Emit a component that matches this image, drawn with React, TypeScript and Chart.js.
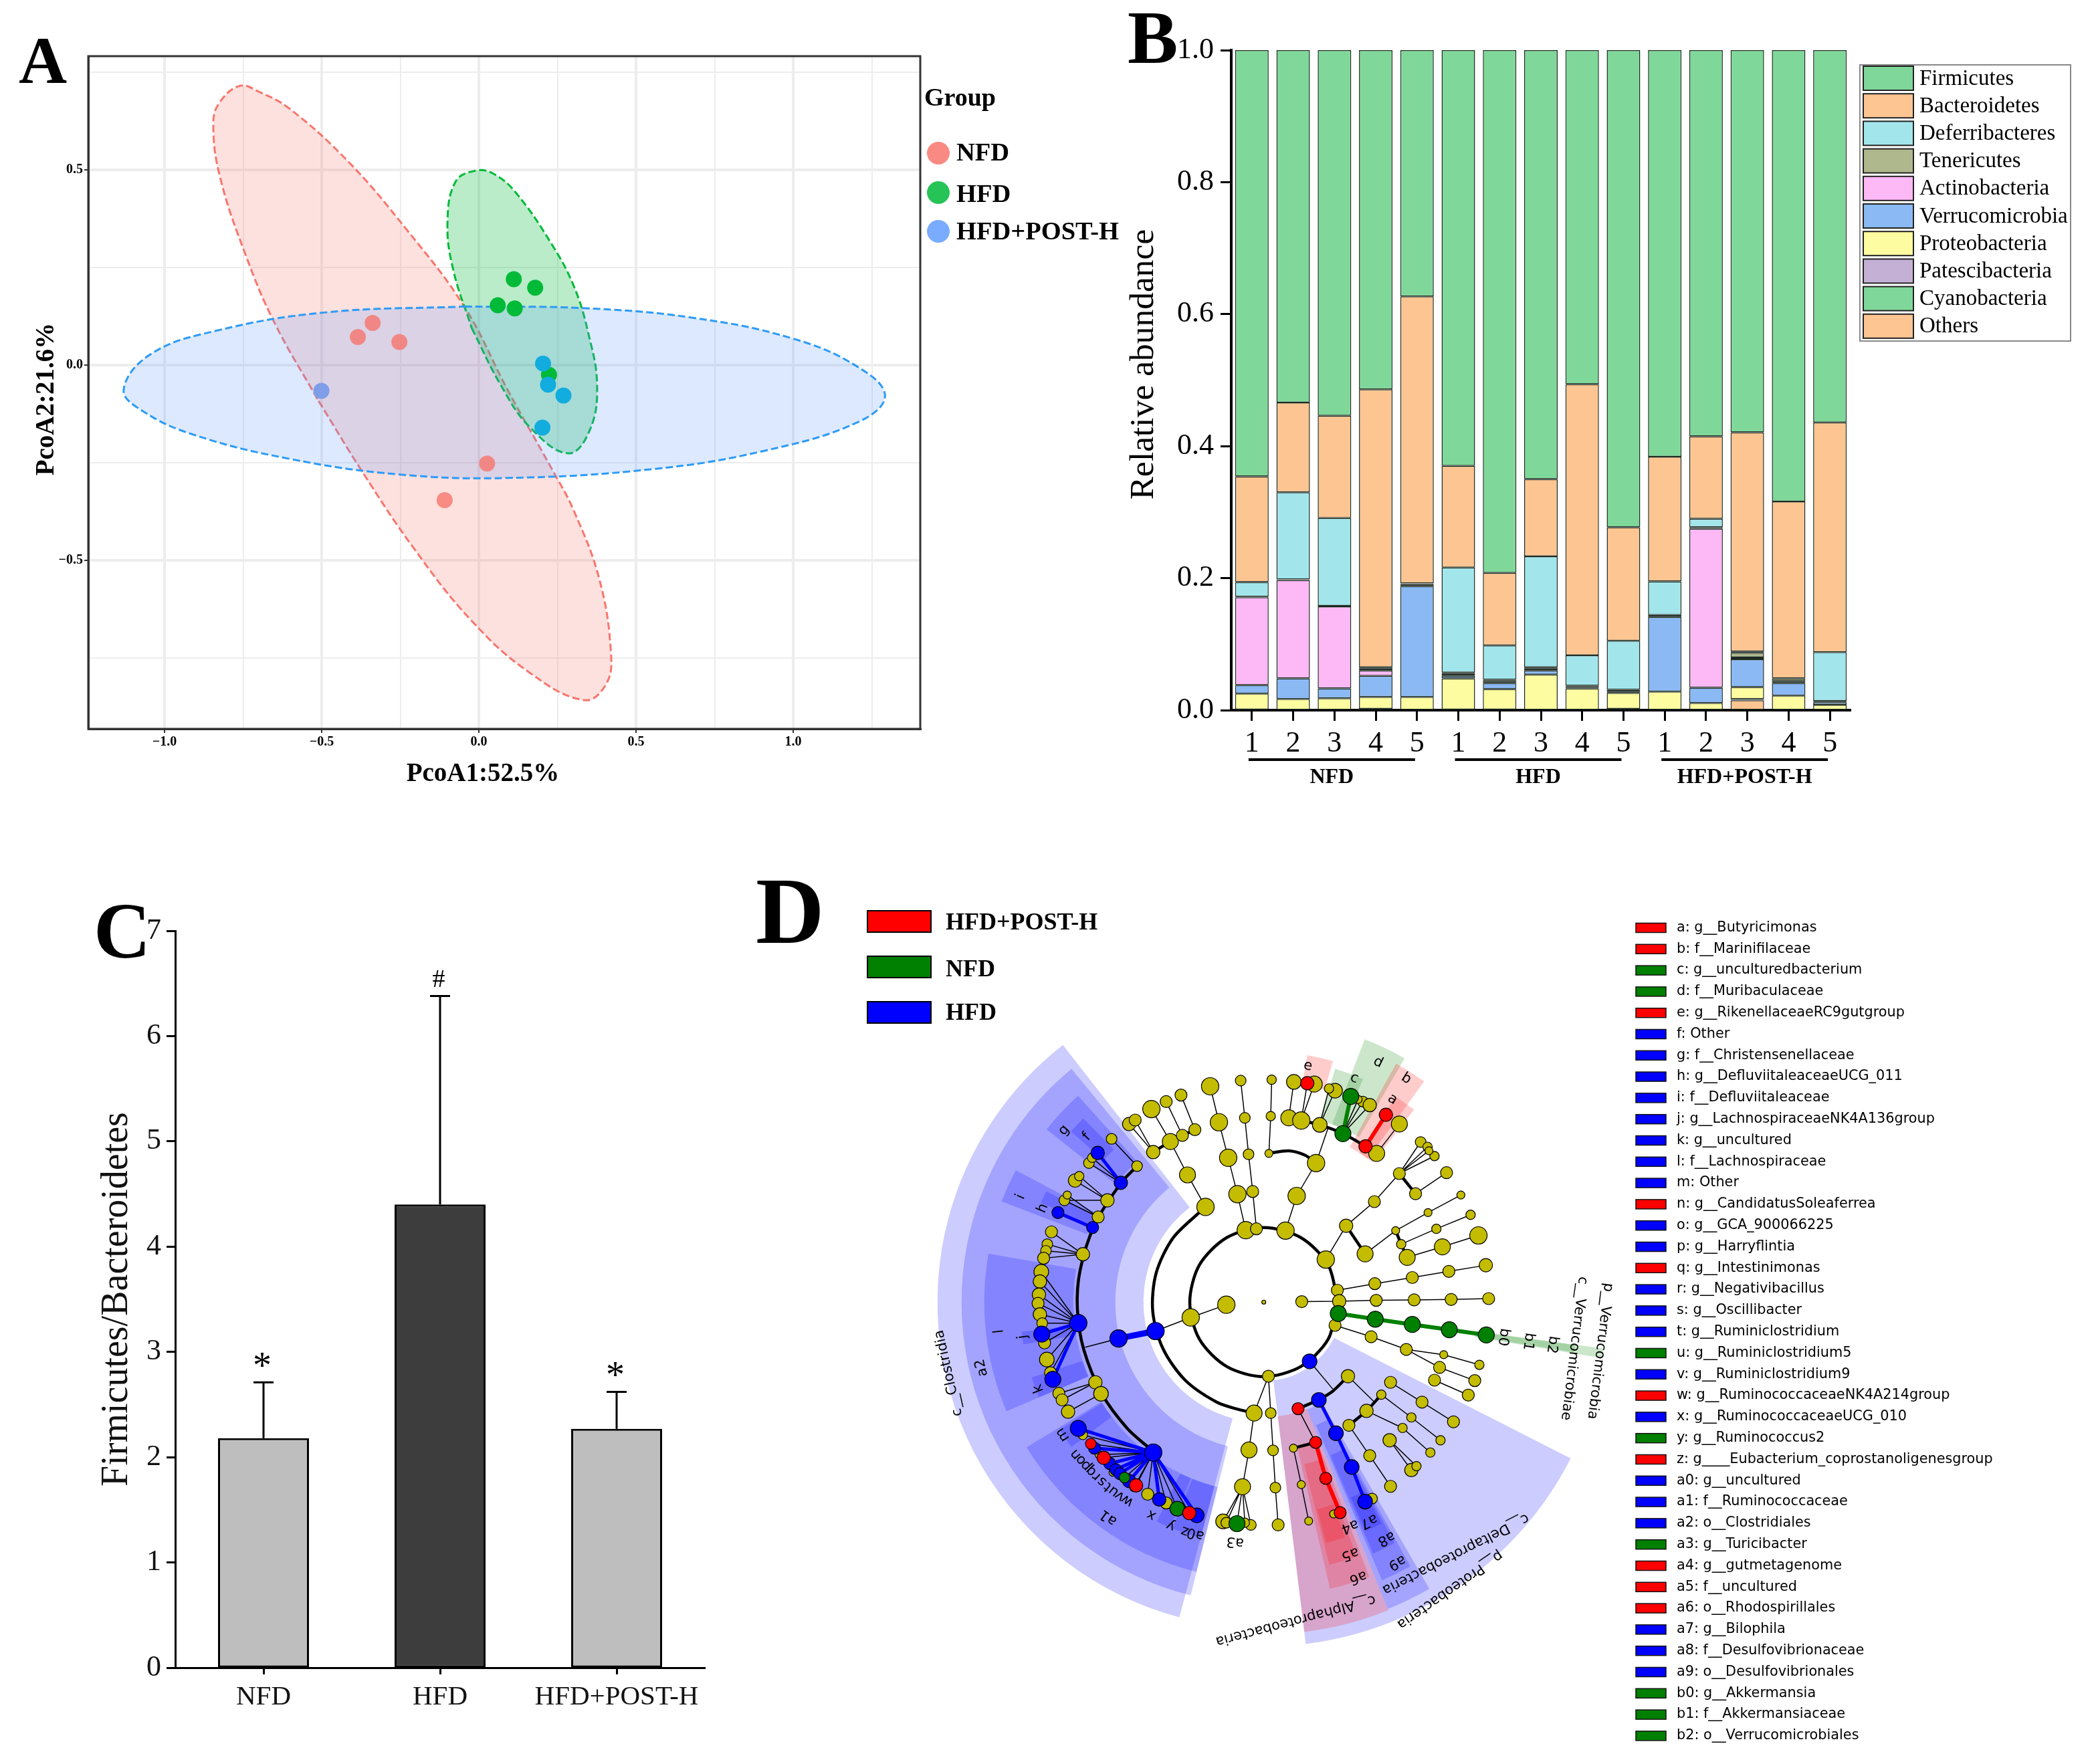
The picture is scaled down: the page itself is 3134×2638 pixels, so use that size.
import React, { useEffect, useRef } from "react";
import { Chart, registerables } from "chart.js";

Chart.register(...registerables);

const SERIF = '"Liberation Serif"';
const SANS = '"DejaVu Sans"';

// ---------- Panel A: PCoA ----------
const pcoaGroups = ["NFD", "HFD", "HFD+POST-H"];
const pcoaNFD = [[-0.338, 0.108], [-0.385, 0.072], [-0.253, 0.059], [0.026, -0.252], [-0.109, -0.346]];
const pcoaHFD = [[0.111, 0.22], [0.179, 0.198], [0.06, 0.153], [0.114, 0.145], [0.223, -0.025]];
const pcoaPOST = [[-0.501, -0.066], [0.204, 0.004], [0.22, -0.05], [0.269, -0.078], [0.202, -0.16]];
const outlineNFD = [[-0.51, -0.092], [-0.371, -0.273], [-0.209, -0.467], [-0.023, -0.655], [0.162, -0.788], [0.336, -0.858], [0.406, -0.815], [0.42, -0.735], [0.383, -0.548], [0.302, -0.373], [0.232, -0.266], [0.093, -0.066], [-0.046, 0.149], [-0.232, 0.349], [-0.418, 0.523], [-0.603, 0.657], [-0.7, 0.7], [-0.761, 0.715], [-0.826, 0.671], [-0.845, 0.617], [-0.824, 0.483], [-0.742, 0.282], [-0.65, 0.108], [-0.51, -0.092]];
const outlineHFD = [[-0.023, 0.095], [0.07, -0.052], [0.162, -0.159], [0.285, -0.226], [0.353, -0.166], [0.376, -0.052], [0.348, 0.082], [0.302, 0.202], [0.232, 0.309], [0.116, 0.443], [0.046, 0.49], [-0.009, 0.498], [-0.074, 0.47], [-0.1, 0.363], [-0.081, 0.242], [-0.023, 0.095]];
const outlinePOST = [[-0.046, 0.15], [0.325, 0.146], [0.673, 0.122], [0.998, 0.068], [1.206, -0.005], [1.292, -0.079], [1.206, -0.146], [0.905, -0.22], [0.557, -0.266], [0.093, -0.289], [-0.255, -0.28], [-0.603, -0.24], [-0.905, -0.179], [-1.067, -0.119], [-1.13, -0.063], [-1.044, 0.028], [-0.835, 0.088], [-0.487, 0.135], [-0.046, 0.15]];
const pcoaColors = ["#F8766D", "#00BA38", "#619CFF"];
const pcoaPOSTColors = ["#7E9EE8", "#12ACDF", "#12ACDF", "#12ACDF", "#12ACDF"];

// ---------- Panel B: stacked composition ----------
const sampleLabels = ["1", "2", "3", "4", "5", "1", "2", "3", "4", "5", "1", "2", "3", "4", "5"];
const sampleGroups = ["NFD", "HFD", "HFD+POST-H"];
const others = [0.001, 0, 0, 0.002, 0, 0, 0, 0, 0, 0.001, 0, 0, 0.015, 0, 0];
const cyanobacteria = [0, 0, 0, 0, 0, 0, 0, 0, 0, 0, 0, 0, 0.001, 0, 0];
const patescibacteria = [0, 0, 0, 0, 0, 0.001, 0.001, 0, 0, 0.001, 0, 0, 0.001, 0, 0];
const proteobacteria = [0.024, 0.017, 0.018, 0.018, 0.02, 0.047, 0.031, 0.054, 0.033, 0.024, 0.028, 0.011, 0.018, 0.022, 0.008];
const verrucomicrobia = [0.013, 0.031, 0.015, 0.032, 0.168, 0.004, 0.009, 0.006, 0.002, 0.002, 0.113, 0.023, 0.042, 0.019, 0.004];
const actinobacteria = [0.133, 0.149, 0.124, 0.008, 0, 0.003, 0.003, 0.003, 0, 0, 0, 0.241, 0.003, 0.003, 0];
const tenericutes = [0.001, 0.001, 0.001, 0.003, 0.003, 0.002, 0.002, 0.002, 0.002, 0.003, 0.003, 0.002, 0.007, 0.004, 0.002];
const deferribacteres = [0.022, 0.132, 0.133, 0.002, 0.001, 0.159, 0.052, 0.168, 0.046, 0.074, 0.051, 0.013, 0.002, 0, 0.074];
const bacteroidetes = [0.16, 0.136, 0.155, 0.421, 0.435, 0.154, 0.11, 0.117, 0.411, 0.172, 0.189, 0.125, 0.332, 0.268, 0.348];
const firmicutes = [0.646, 0.534, 0.554, 0.514, 0.373, 0.63, 0.792, 0.65, 0.506, 0.723, 0.616, 0.585, 0.579, 0.684, 0.564];
const phylumStack: [string, number[], string][] = [
  ["Others", others, "#FDC591"],
  ["Cyanobacteria", cyanobacteria, "#7FD899"],
  ["Patescibacteria", patescibacteria, "#C5B0D5"],
  ["Proteobacteria", proteobacteria, "#FDFCA0"],
  ["Verrucomicrobia", verrucomicrobia, "#8AB9F4"],
  ["Actinobacteria", actinobacteria, "#FDB8F6"],
  ["Tenericutes", tenericutes, "#AFB78D"],
  ["Deferribacteres", deferribacteres, "#A2E6EC"],
  ["Bacteroidetes", bacteroidetes, "#FDC591"],
  ["Firmicutes", firmicutes, "#7FD899"],
];

// ---------- Panel C: ratio bars ----------
const ratioGroups = ["NFD", "HFD", "HFD+POST-H"];
const ratioMeans = [2.18, 4.4, 2.27];
const ratioUpper = [2.71, 6.38, 2.62];
const ratioColors = ["#BEBEBE", "#3D3D3D", "#BEBEBE"];
const ratioMarks = ["*", "#", "*"];

// ---------- Panel D: cladogram ----------
const cladeKeys = ["a", "b", "c", "d", "e", "f", "g", "h", "i", "j", "k", "l", "m", "n", "o", "p", "q", "r", "s", "t", "u", "v", "w", "x", "y", "z", "a0", "a1", "a2", "a3", "a4", "a5", "a6", "a7", "a8", "a9", "b0", "b1", "b2"];
const cladeNames = ["g__Butyricimonas", "f__Marinifilaceae", "g__unculturedbacterium", "f__Muribaculaceae", "g__RikenellaceaeRC9gutgroup", "Other", "f__Christensenellaceae", "g__DefluviitaleaceaeUCG_011", "f__Defluviitaleaceae", "g__LachnospiraceaeNK4A136group", "g__uncultured", "f__Lachnospiraceae", "Other", "g__CandidatusSoleaferrea", "g__GCA_900066225", "g__Harryflintia", "g__Intestinimonas", "g__Negativibacillus", "g__Oscillibacter", "g__Ruminiclostridium", "g__Ruminiclostridium5", "g__Ruminiclostridium9", "g__RuminococcaceaeNK4A214group", "g__RuminococcaceaeUCG_010", "g__Ruminococcus2", "g____Eubacterium_coprostanoligenesgroup", "g__uncultured", "f__Ruminococcaceae", "o__Clostridiales", "g__Turicibacter", "g__gutmetagenome", "f__uncultured", "o__Rhodospirillales", "g__Bilophila", "f__Desulfovibrionaceae", "o__Desulfovibrionales", "g__Akkermansia", "f__Akkermansiaceae", "o__Verrucomicrobiales"];
const cladeGroups = "rrggrbbbbbbbbrbbrbbbgbrbgrbbbgrrrbbbggg".split("");
const lefseGroups: [string, string][] = [["HFD+POST-H", "r"], ["NFD", "g"], ["HFD", "b"]];
const groupColor: Record<string, string> = { r: "#FF0000", g: "#008000", b: "#0000FF", y: "#C4BC00" };
const wedgeColor: Record<string, string> = { r: "rgba(255,0,0,0.2)", g: "rgba(0,128,0,0.2)", b: "rgba(0,0,255,0.2)" };

const cladoCentre = [836, 697];
const yellowNodes = [
  [797, 533, 13], [779, 451, 13], [759, 368, 13], [739, 287, 13], [720, 205, 13], [820, 530, 9], [812, 445, 9], [803, 360, 8], [795, 277, 8], [786, 192, 8],
  [883, 534, 13], [907, 455, 13], [949, 380, 13], [847, 358, 6], [851, 273, 7], [853, 190, 7], [890, 277, 12], [917, 283, 13], [957, 293, 11], [901, 195, 11], [945, 200, 12], [990, 215, 11], [977, 210, 7], [1050, 240, 8], [1065, 248, 10], [1040, 235, 6], [1080, 358, 12], [1129, 291, 12],
  [970, 600, 13], [1014, 523, 10], [1075, 468, 9], [1129, 404, 9], [1175, 332, 8], [1190, 343, 7], [1205, 364, 7], [1193, 352, 6], [1164, 450, 9], [1231, 402, 9],
  [1055, 587, 12], [1121, 534, 6], [1191, 493, 6], [1262, 453, 6], [1133, 565, 7], [1209, 530, 7], [1283, 498, 7], [1146, 595, 12], [1222, 571, 12], [1300, 545, 13],
  [995, 670, 9], [1076, 655, 9], [1157, 641, 9], [1236, 627, 9], [1316, 613, 10], [999, 695, 10], [1079, 693, 9], [1161, 692, 9], [1241, 691, 9], [1322, 689, 9], [918, 696, 9],
  [990, 750, 9], [1068, 776, 9], [1144, 805, 9], [1225, 817, 6], [1302, 840, 7], [1216, 846, 9], [1205, 875, 9], [1292, 876, 9], [1278, 909, 9],
  [1018, 866, 10], [1110, 880, 9], [1178, 925, 9], [1246, 970, 9], [1090, 908, 7], [1155, 960, 7], [1218, 1012, 7], [1058, 945, 10], [1136, 984, 7], [1196, 1040, 7], [1020, 978, 9], [1065, 1047, 9], [1110, 1117, 9], [1108, 1012, 10], [1155, 1080, 10], [1166, 1071, 7],
  [900, 1030, 6], [917, 1113, 6], [933, 1196, 6], [987, 1180, 6], [1070, 1145, 8],
  [846, 866, 9], [851, 950, 8], [856, 1035, 8], [861, 1120, 8], [867, 1205, 9], [815, 950, 12], [804, 1034, 12], [790, 1118, 12], [748, 1197, 11], [808, 1205, 8], [755, 1200, 8], [795, 1200, 7],
  [755, 703, 13], [678, 732, 13], [836, 697, 3],
  [710, 480, 13], [671, 407, 12], [634, 331, 12], [593, 257, 13], [625, 240, 9], [657, 225, 9], [545, 291, 10], [558, 282, 9], [597, 355, 10], [660, 317, 9], [687, 304, 9],
  [562, 387, 8], [507, 325, 8], [458, 380, 8], [465, 368, 7], [498, 465, 10], [428, 420, 10], [437, 410, 7], [405, 465, 8], [478, 503, 9], [411, 453, 6],
  [445, 588, 10], [377, 537, 9], [368, 565, 8], [365, 580, 8], [360, 597, 9], [355, 628, 11], [352, 650, 10], [350, 680, 10], [348, 700, 9], [352, 725, 10], [357, 745, 8], [362, 790, 9], [367, 828, 11], [375, 858, 9],
  [472, 880, 10], [393, 905, 9], [400, 920, 9], [484, 906, 11], [413, 947, 10], [445, 1000, 7], [585, 1135, 9], [625, 1155, 9], [480, 1045, 6], [510, 1085, 6], [555, 1120, 6],
];
const blueNodes = [
  [602, 763, 13], [522, 780, 13], [435, 745, 13], [356, 770, 12], [380, 873, 12], [597, 1040, 13], [527, 425, 10], [477, 357, 10], [466, 527, 9], [391, 493, 9],
  [435, 985, 12], [470, 1030, 9], [503, 1065, 9], [516, 1079, 9], [525, 1088, 9], [545, 1105, 10], [610, 1147, 10], [691, 1183, 11],
  [935, 832, 11], [955, 920, 11], [992, 996, 11], [1026, 1073, 11], [1055, 1152, 11],
];
const redNodes = [[910, 940, 9], [948, 1017, 9], [970, 1099, 9], [1001, 1177, 9], [1056, 342, 10], [1100, 270, 10], [930, 198, 10], [462, 1020, 8], [490, 1052, 10], [560, 1115, 10], [675, 1178, 10]];
const greenNodes = [[997, 723, 12], [1077, 736, 12], [1157, 748, 12], [1237, 760, 12], [1317, 772, 12], [1007, 313, 12], [1024, 228, 12], [778, 1202, 12], [535, 1097, 8], [649, 1168, 11]];

const thinBranches = [
  [797, 533, 779, 451, 759, 368, 739, 287, 720, 205], [820, 530, 812, 445, 803, 360, 795, 277, 786, 192], [883, 534, 907, 455, 949, 380, 975, 300],
  [847, 358, 851, 273, 853, 190], [890, 277, 901, 195], [917, 283, 945, 200, 917, 283, 930, 198], [957, 293, 990, 215, 957, 293, 977, 210],
  [1007, 313, 1040, 235, 1007, 313, 1050, 240, 1007, 313, 1065, 248], [1080, 358, 1129, 291], [970, 600, 1014, 523, 1075, 468, 1129, 404],
  [1129, 404, 1175, 332, 1129, 404, 1190, 343, 1129, 404, 1205, 364, 1129, 404, 1193, 352], [1164, 450, 1231, 402], [1055, 587, 1121, 534, 1191, 493, 1262, 453],
  [1133, 565, 1209, 530, 1283, 498], [1146, 595, 1222, 571, 1300, 545], [995, 670, 1076, 655, 1157, 641, 1236, 627, 1316, 613], [999, 695, 1079, 693, 1161, 692, 1241, 691, 1322, 689], [918, 696, 999, 695],
  [990, 750, 1068, 776, 1144, 805, 1225, 817, 1302, 840], [1144, 805, 1216, 846, 1292, 876], [1205, 875, 1278, 909], [935, 832, 985, 895],
  [1110, 880, 1178, 925, 1246, 970], [1018, 866, 1075, 925], [1090, 908, 1155, 960, 1218, 1012], [1058, 945, 1136, 984, 1196, 1040], [1020, 978, 1065, 1047, 1110, 1117], [1108, 1012, 1155, 1080, 1108, 1012, 1166, 1071],
  [900, 1030, 917, 1113, 933, 1196], [910, 940, 948, 1017], [846, 866, 851, 950, 856, 1035, 861, 1120, 867, 1205], [846, 866, 815, 950], [815, 950, 804, 1034, 790, 1118],
  [790, 1118, 748, 1197, 790, 1118, 778, 1202, 790, 1118, 808, 1205, 790, 1118, 755, 1200, 790, 1118, 795, 1200],
  [755, 703, 678, 732, 602, 763], [522, 780, 450, 800], [710, 480, 671, 407, 634, 331, 593, 257], [597, 355, 545, 291, 597, 355, 558, 282], [660, 317, 625, 240], [687, 304, 657, 225],
  [562, 387, 507, 325], [527, 425, 458, 380, 527, 425, 465, 368], [498, 465, 428, 420, 498, 465, 437, 410, 498, 465, 405, 465], [478, 503, 411, 453, 478, 503, 405, 465],
  [445, 588, 377, 537, 445, 588, 368, 565, 445, 588, 365, 580, 445, 588, 360, 597],
  [435, 745, 355, 628, 435, 745, 352, 650, 435, 745, 350, 680, 435, 745, 348, 700, 435, 745, 352, 725, 435, 745, 357, 745, 435, 745, 362, 790, 435, 745, 367, 828, 435, 745, 375, 858],
  [472, 880, 393, 905, 472, 880, 400, 920], [484, 906, 413, 947], [597, 1040, 445, 1000, 597, 1040, 480, 1045, 597, 1040, 510, 1085, 597, 1040, 555, 1120, 597, 1040, 585, 1135, 597, 1040, 625, 1155],
  [597, 1040, 462, 1020, 597, 1040, 490, 1052, 597, 1040, 535, 1097, 597, 1040, 560, 1115, 597, 1040, 649, 1168, 597, 1040, 675, 1178],
];
const blueBranches = [[435, 745, 356, 770], [435, 745, 380, 873], [527, 425, 477, 357], [466, 527, 391, 493], [597, 1040, 435, 985], [597, 1040, 470, 1030], [597, 1040, 503, 1065], [597, 1040, 516, 1079], [597, 1040, 525, 1088], [597, 1040, 545, 1105], [597, 1040, 610, 1147], [597, 1040, 691, 1183], [955, 920, 992, 996, 1026, 1073, 1055, 1152]];
const wideBlueBranches = [[602, 763, 522, 780]];
const redBranches = [[948, 1017, 970, 1099, 1001, 1177], [1056, 342, 1100, 270]];
const greenBranches = [[997, 723, 1077, 736, 1157, 748, 1237, 760, 1317, 772], [1007, 313, 1024, 228]];
const blackArcs = [
  [996, 697, 975, 782, 916, 844, 836, 867, 756, 844, 697, 782, 676, 697, 697, 612, 756, 550, 836, 527, 916, 550, 975, 612, 996, 697],
  [698, 491, 639, 552, 603, 632, 596, 719, 618, 803, 666, 875, 734, 925, 782, 942, 815, 950],
  [562, 387, 527, 426, 471, 519, 439, 624, 433, 712, 447, 806, 487, 908, 541, 985, 593, 1034],
  [847, 358, 890, 352, 925, 362, 949, 380], [890, 277, 917, 283, 957, 293, 1007, 313, 1056, 342, 1080, 358], [597, 355, 634, 331, 660, 317, 687, 304], [1121, 534, 1133, 565, 1146, 595], [1129, 404, 1164, 450], [1014, 523, 1055, 587],
  [955, 920, 985, 900, 1018, 866], [910, 940, 955, 920], [948, 1017, 900, 1030], [1090, 908, 1058, 945, 1020, 978],
];
// start angle, end angle, inner radius, outer radius, group
const cladeWedges: [number, number, number, number, string][] = [
  [105, 232, 180, 488, "b"], [104, 230.5, 222, 452, "b"], [157, 190, 285, 418, "b"], [104, 148.5, 285, 416, "b"], [218.5, 228, 283, 415, "b"], [221.5, 225.5, 320, 385, "b"], [201, 208, 283, 420, "b"], [204, 207, 283, 365, "b"],
  [105, 112, 285, 365, "b"], [112.5, 116, 285, 365, "b"], [157, 162, 285, 365, "b"], [170, 173, 285, 365, "b"], [143, 148, 285, 360, "b"],
  [27, 83, 118, 515, "b"], [68, 83, 172, 497, "r"], [60, 68, 173, 495, "b"], [61, 67, 200, 452, "b"], [61.5, 66.5, 250, 410, "b"], [62, 66, 320, 375, "b"], [69, 77, 220, 440, "r"], [70, 76, 250, 405, "r"], [71, 75.5, 320, 372, "r"],
  [291, 300, 285, 421, "g"], [287, 294, 285, 365, "g"], [299, 306, 265, 408, "r"], [302.6, 308, 265, 365, "r"], [280, 286, 330, 375, "r"],
  [7.8, 9.4, 320, 513, "g"], [7.9, 9.2, 320, 470, "g"],
];
// text, angle, radius, optional rotation
const cladeLabels: [string, number, number, number?][] = [
  ["e", 280.6, 359], ["d", 295.5, 397], ["c", 292, 361], ["b", 302.5, 396], ["a", 302.4, 359], ["g", 220.7, 394], ["f", 223, 362], ["i", 203.4, 396], ["h", 203, 359], ["l", 173.7, 398], ["j", 171.8, 364], ["k", 159, 361], ["m", 146.6, 360],
  ["n", 141, 362], ["o", 139.2, 361], ["p", 137.4, 361], ["q", 135.6, 361], ["r", 133.8, 361], ["s", 132, 361], ["t", 130.2, 361], ["u", 128.4, 361], ["v", 126.6, 361], ["w", 124.5, 360], ["x", 117.8, 360], ["y", 112.6, 362], ["z", 109, 362], ["a0", 106.4, 361],
  ["a1", 125.8, 397], ["a2", 166.9, 433], ["c__Clostridia", 167.3, 483], ["a3", 96.8, 361], ["a4", 69, 359], ["a5", 71.1, 398], ["a6", 71.1, 435], ["a7", 64.4, 363], ["a8", 62.6, 398], ["a9", 62.9, 437], ["b0", 8.3, 362], ["b1", 8.5, 400], ["b2", 8.4, 436],
  ["c__Alphaproteobacteria", 84.3, 478, 165], ["c__Deltaproteobacteria", 52.7, 473, 153], ["p__Proteobacteria", 57.1, 512, 145], ["c__Verrucomicrobiae", 8.5, 469, 97], ["p__Verrucomicrobia", 8.3, 508, 97],
];

// ---------- helpers ----------
const polyPoints = (lists: number[][]) =>
  lists.flatMap((l) => {
    const pts: { x: number | null; y: number | null }[] = [];
    for (let i = 0; i < l.length; i += 2) pts.push({ x: l[i], y: l[i + 1] });
    pts.push({ x: null, y: null });
    return pts;
  });
const asXY = (rows: number[][]) => rows.map((r) => ({ x: r[0], y: r[1] }));

function txt(ctx: CanvasRenderingContext2D, s: string, x: number, y: number, font: string, o: { align?: CanvasTextAlign; rot?: number; color?: string; base?: CanvasTextBaseline } = {}) {
  ctx.save();
  ctx.translate(x, y);
  if (o.rot) ctx.rotate((o.rot * Math.PI) / 180);
  ctx.font = font;
  ctx.fillStyle = o.color || "#000";
  ctx.textAlign = o.align || "left";
  ctx.textBaseline = o.base || "middle";
  ctx.fillText(s, 0, 0);
  ctx.restore();
}

const baseOpts = {
  responsive: false,
  animation: false,
  devicePixelRatio: 1,
  events: [] as string[],
};
const noChrome = { legend: { display: false }, tooltip: { enabled: false } };
const isMajor = (v: number) => Math.abs(v * 2 - Math.round(v * 2)) < 1e-6;

function useChart(make: (c: HTMLCanvasElement) => Chart) {
  const ref = useRef<HTMLCanvasElement>(null);
  useEffect(() => {
    const chart = make(ref.current!);
    return () => chart.destroy();
  }, []);
  return ref;
}

// ---------- panels ----------
function makeA(c: HTMLCanvasElement) {
  const ellipse = (data: number[][], color: string, fill: string) => ({
    data: asXY(data), showLine: true, tension: 0.4, fill: "shape", backgroundColor: fill, borderColor: color, borderWidth: 3, borderDash: [11, 5], pointRadius: 0,
  });
  const dots = (data: number[][], color: string | string[]) => ({ data: asXY(data), pointRadius: 12, pointBackgroundColor: color, pointBorderWidth: 0, showLine: false });
  return new Chart(c, {
    type: "scatter",
    data: {
      datasets: [
        dots(pcoaPOST, pcoaPOSTColors), dots(pcoaHFD, "#00BA38"), dots(pcoaNFD, "rgba(248,118,109,0.8)"),
        ellipse(outlinePOST, "#2E9BF5", "rgba(97,156,255,0.22)"), ellipse(outlineHFD, "#00BA38", "rgba(0,186,56,0.27)"), ellipse(outlineNFD, "#F8766D", "rgba(248,118,109,0.22)"),
      ] as any,
    },
    options: {
      ...baseOpts,
      layout: { padding: { left: 0, top: 84, right: 304, bottom: 90 } },
      plugins: noChrome,
      scales: {
        x: {
          type: "linear", min: -1.2426, max: 1.404,
          afterFit: (s: any) => { s.height = 60; },
          ticks: { stepSize: 0.25, includeBounds: false, autoSkip: false, maxRotation: 0, padding: 2, color: "#000", font: { family: SERIF, size: 20, weight: "bold" }, callback: (v: any) => (isMajor(v) ? (v < 0 ? "\u2212" : "") + Math.abs(v).toFixed(1) : "") },
          grid: { color: "#EDEDED", lineWidth: (x: any) => (isMajor(x.tick.value) ? 4 : 2), tickLength: 6, tickColor: (x: any) => (isMajor(x.tick.value) ? "#333" : "transparent"), tickWidth: 2 },
          border: { color: "#333", width: 3 },
        },
        y: {
          type: "linear", min: -0.9315, max: 0.791,
          afterFit: (s: any) => { s.width = 132; },
          ticks: { stepSize: 0.25, includeBounds: false, autoSkip: false, padding: 2, color: "#000", font: { family: SERIF, size: 20, weight: "bold" }, callback: (v: any) => (isMajor(v) ? (v < 0 ? "\u2212" : "") + Math.abs(v).toFixed(1) : "") },
          grid: { color: "#EDEDED", lineWidth: (x: any) => (isMajor(x.tick.value) ? 4 : 2), tickLength: 6, tickColor: (x: any) => (isMajor(x.tick.value) ? "#333" : "transparent"), tickWidth: 2 },
          border: { color: "#333", width: 3 },
        },
      },
    } as any,
    plugins: [{
      id: "panelA",
      afterDraw(chart: any) {
        const { ctx, chartArea: a } = chart;
        ctx.strokeStyle = "#333"; ctx.lineWidth = 3;
        ctx.strokeRect(a.left, a.top, a.right - a.left, a.bottom - a.top);
        const bold = (n: number) => `bold ${n}px ${SERIF}`;
        txt(ctx, "A", 28, 124, `bold 100px ${SERIF}`, { base: "alphabetic" });
        txt(ctx, "PcoA1:52.5%", 722, 1158, bold(39), { align: "center" });
        txt(ctx, "PcoA2:21.6%", 70, 597, bold(39), { align: "center", rot: -90 });
        txt(ctx, "Group", 1382, 148, bold(38));
        const ys = [229, 288, 346];
        const ts = [230, 292, 348];
        pcoaGroups.forEach((g, i) => {
          ctx.beginPath(); ctx.arc(1403, ys[i], 17, 0, Math.PI * 2);
          ctx.fillStyle = pcoaColors[i]; ctx.globalAlpha = 0.85; ctx.fill(); ctx.globalAlpha = 1;
          txt(ctx, g, 1430, ts[i], bold(38.5));
        });
      },
    }],
  });
}

function makeB(c: HTMLCanvasElement) {
  return new Chart(c, {
    type: "bar",
    data: {
      labels: sampleLabels,
      datasets: phylumStack.map(([label, data, color]) => ({ label, data, backgroundColor: color, borderColor: "#1c2a20", borderWidth: 1.5, borderSkipped: false, barPercentage: 0.81, categoryPercentage: 1 })) as any,
    },
    options: {
      ...baseOpts,
      layout: { padding: { left: 0, top: 75, right: 367, bottom: 108 } },
      plugins: noChrome,
      scales: {
        x: {
          stacked: true,
          afterFit: (s: any) => { s.height = 70; },
          ticks: { autoSkip: false, maxRotation: 0, padding: 8, color: "#000", font: { family: SERIF, size: 44 } },
          grid: { display: true, drawOnChartArea: false, tickLength: 16, tickColor: "#000", tickWidth: 3, offset: false },
          border: { color: "#000", width: 4 },
        },
        y: {
          stacked: true, min: 0, max: 1,
          afterFit: (s: any) => { s.width = 161; },
          ticks: { stepSize: 0.2, padding: 10, color: "#000", font: { family: SERIF, size: 44 }, callback: (v: any) => Number(v).toFixed(1) },
          grid: { drawOnChartArea: false, tickLength: 16, tickColor: "#000", tickWidth: 3 },
          border: { color: "#000", width: 4 },
        },
      },
    } as any,
    plugins: [{
      id: "panelB",
      afterDraw(chart: any) {
        const { ctx, scales } = chart;
        ctx.save(); ctx.translate(-1680, 0);
        txt(ctx, "B", 1686, 94, `bold 113px ${SERIF}`, { base: "alphabetic" });
        txt(ctx, "Relative abundance", 1710, 545, `51.5px ${SERIF}`, { align: "center", rot: -90 });
        ctx.restore();
        sampleGroups.forEach((g, i) => {
          const a = scales.x.getPixelForValue(i * 5) - 5, b = scales.x.getPixelForValue(i * 5 + 4) - 3;
          ctx.strokeStyle = "#000"; ctx.lineWidth = 4;
          ctx.beginPath(); ctx.moveTo(a, 1136); ctx.lineTo(b, 1136); ctx.stroke();
          txt(ctx, g, (a + b) / 2, 1163, `bold 32px ${SERIF}`, { align: "center" });
        });
        ctx.strokeStyle = "#888"; ctx.lineWidth = 2;
        ctx.strokeRect(1101, 97, 315, 413);
        [...chart.data.datasets].reverse().forEach((d: any, i: number) => {
          const cy = 117 + 41.2 * i;
          ctx.fillStyle = d.backgroundColor; ctx.fillRect(1106, cy - 18, 75, 36);
          ctx.strokeStyle = "#222"; ctx.lineWidth = 2; ctx.strokeRect(1106, cy - 18, 75, 36);
          txt(ctx, d.label, 1190, cy + 1, `33px ${SERIF}`);
        });
      },
    }],
  });
}

function makeC(c: HTMLCanvasElement) {
  return new Chart(c, {
    type: "bar",
    data: { labels: ratioGroups, datasets: [{ data: ratioMeans, backgroundColor: ratioColors, borderColor: "#000", borderWidth: 3, borderSkipped: false, barPercentage: 0.515, categoryPercentage: 1 }] as any },
    options: {
      ...baseOpts,
      layout: { padding: { left: 0, top: 112, right: 46, bottom: 74 } },
      plugins: noChrome,
      scales: {
        x: {
          afterFit: (s: any) => { s.height = 70; },
          ticks: { padding: 10, color: "#111", font: { family: SERIF, size: 41 } },
          grid: { drawOnChartArea: false, tickLength: 10, tickColor: "#000", tickWidth: 3, offset: false },
          border: { color: "#000", width: 3 },
        },
        y: {
          min: 0, max: 7,
          afterFit: (s: any) => { s.width = 262; },
          title: { display: true, text: "Firmicutes/Bacteroidetes", color: "#111", font: { family: SERIF, size: 56 }, padding: { top: 142, bottom: 0 } },
          ticks: { stepSize: 1, padding: 8, color: "#111", font: { family: SERIF, size: 44 } },
          grid: { drawOnChartArea: false, tickLength: 13, tickColor: "#000", tickWidth: 3 },
          border: { color: "#000", width: 3 },
        },
      },
    } as any,
    plugins: [{
      id: "panelC",
      afterDatasetsDraw(chart: any) {
        const { ctx, scales } = chart;
        ratioMeans.forEach((m, i) => {
          const x = scales.x.getPixelForValue(i), y0 = scales.y.getPixelForValue(m), y1 = scales.y.getPixelForValue(ratioUpper[i]);
          ctx.strokeStyle = "#000"; ctx.lineWidth = 3;
          ctx.beginPath(); ctx.moveTo(x, y0); ctx.lineTo(x, y1); ctx.moveTo(x - 15, y1); ctx.lineTo(x + 15, y1); ctx.stroke();
          const mark = ratioMarks[i];
          txt(ctx, mark, x - 2, y1 - (mark === "#" ? 24 : 21), mark === "#" ? `38px ${SERIF}` : `56px ${SERIF}`, { align: "center" });
        });
        txt(ctx, "C", 140, 1432 - 1280, `bold 118px ${SERIF}`, { base: "alphabetic" });
      },
    }],
  });
}

function makeD(c: HTMLCanvasElement) {
  const nodes = (rows: number[][], color: string) => ({ data: asXY(rows), pointRadius: rows.map((r) => r[2]), pointBackgroundColor: color, pointBorderColor: "#000", pointBorderWidth: 1.2, showLine: false });
  const edges = (rows: number[][], color: string, width: number, tension = 0) => ({ data: polyPoints(rows), showLine: true, spanGaps: false, borderColor: color, borderWidth: width, pointRadius: 0, tension, fill: false });
  return new Chart(c, {
    type: "scatter",
    data: {
      datasets: [
        nodes(redNodes, groupColor.r), nodes(greenNodes, groupColor.g), nodes(blueNodes, groupColor.b), nodes(yellowNodes, groupColor.y),
        edges(redBranches, groupColor.r, 6), edges(greenBranches, groupColor.g, 6), edges(wideBlueBranches, groupColor.b, 9), edges(blueBranches, groupColor.b, 5),
        edges(blackArcs, "#000", 4.5, 0.3), edges(thinBranches, "#000", 1.5),
      ] as any,
    },
    options: {
      ...baseOpts,
      layout: { padding: 0 },
      plugins: noChrome,
      scales: {
        x: { type: "linear", display: false, min: -285.1, max: 2614.4 },
        y: { type: "linear", display: false, reverse: true, min: -298.5, max: 1728.4 },
      },
    } as any,
    plugins: [{
      id: "panelD",
      beforeDatasetsDraw(chart: any) {
        const { ctx, scales } = chart;
        const cx = scales.x.getPixelForValue(cladoCentre[0]), cy = scales.y.getPixelForValue(cladoCentre[1]);
        const rad = (d: number) => (d * Math.PI) / 180;
        cladeWedges.forEach(([a, b, r0, r1, g]) => {
          ctx.beginPath(); ctx.arc(cx, cy, r1, rad(a), rad(b)); ctx.arc(cx, cy, r0, rad(b), rad(a), true); ctx.closePath();
          ctx.fillStyle = wedgeColor[g]; ctx.fill();
        });
      },
      afterDraw(chart: any) {
        const { ctx, scales } = chart;
        const cx = scales.x.getPixelForValue(cladoCentre[0]), cy = scales.y.getPixelForValue(cladoCentre[1]);
        cladeLabels.forEach(([t, a, r, rot]) => {
          const ang = (a * Math.PI) / 180;
          txt(ctx, t, cx + r * Math.cos(ang), cy + r * Math.sin(ang), `21px ${SANS}`, { align: "center", rot: rot ?? a - 270 });
        });
        ctx.save(); ctx.translate(-1100, -1280);
        txt(ctx, "D", 1130, 1410, `bold 142px ${SERIF}`, { base: "alphabetic" });
        const ty = [1378, 1446, 1514];
        const tt = [1381, 1451, 1516];
        lefseGroups.forEach(([g, k], i) => {
          ctx.fillStyle = groupColor[k]; ctx.fillRect(1297, ty[i] - 16, 95, 32);
          ctx.strokeStyle = "#000"; ctx.lineWidth = 2; ctx.strokeRect(1297, ty[i] - 16, 95, 32);
          txt(ctx, g, 1414, tt[i], `bold 36px ${SERIF}`);
        });
        cladeNames.forEach((n, i) => {
          const y = 1387.5 + 31.8 * i;
          ctx.fillStyle = groupColor[cladeGroups[i]]; ctx.fillRect(2446, y - 7, 45, 14);
          ctx.strokeStyle = "#111"; ctx.lineWidth = 1.5; ctx.strokeRect(2446, y - 7, 45, 14);
          txt(ctx, `${cladeKeys[i]}: ${n}`, 2507, y, `20.8px ${SANS}`);
        });
        ctx.restore();
      },
    }],
  });
}

const boxes = [
  { make: makeA, left: 0, top: 0, w: 1680, h: 1240 },
  { make: makeB, left: 1680, top: 0, w: 1454, h: 1240 },
  { make: makeC, left: 0, top: 1280, w: 1100, h: 1358 },
  { make: makeD, left: 1100, top: 1280, w: 2034, h: 1358 },
];

function Panel({ make, left, top, w, h }: any) {
  const ref = useChart(make);
  return <canvas ref={ref} width={w} height={h} style={{ position: "absolute", left, top, width: w, height: h, display: "block" }} />;
}

export default function App() {
  return (
    <div style={{ position: "absolute", left: 0, top: 0, width: 3134, height: 2638, background: "#fff", overflow: "hidden" }}>
      {boxes.map((b, i) => <Panel key={i} {...b} />)}
    </div>
  );
}
